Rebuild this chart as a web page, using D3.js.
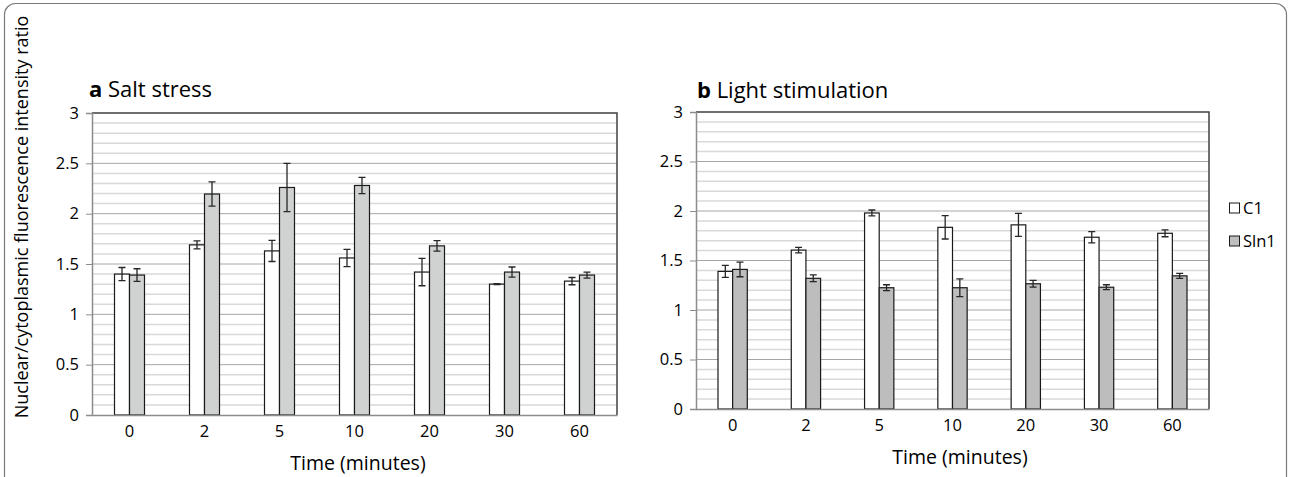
<!DOCTYPE html>
<html><head><meta charset="utf-8">
<script src="https://cdn.jsdelivr.net/npm/d3@7"></script>
<style>body{margin:0;background:#fff}svg{display:block}text{font-family:"Open Sans",sans-serif;fill:#000}</style>
</head><body>
<svg id="c" width="1290" height="477"></svg>
<script>
const categories = ["0","2","5","10","20","30","60"];
const seriesNames = ["C1","Sln1"];
// Panel a: Salt stress
const saltC1 = [1.40,1.69,1.63,1.56,1.42,1.30,1.33];
const saltC1Err = [0.065,0.04,0.105,0.086,0.136,0.005,0.036];
const saltSln1 = [1.39,2.195,2.26,2.28,1.68,1.42,1.39];
const saltSln1Err = [0.063,0.12,0.24,0.08,0.053,0.05,0.03];
// Panel b: Light stimulation
const lightC1 = [1.39,1.605,1.98,1.835,1.86,1.735,1.775];
const lightC1Err = [0.06,0.027,0.03,0.118,0.116,0.057,0.035];
const lightSln1 = [1.41,1.32,1.225,1.225,1.265,1.23,1.345];
const lightSln1Err = [0.074,0.034,0.03,0.09,0.034,0.025,0.025];
const yTicks = [0,0.5,1,1.5,2,2.5,3];

const svg = d3.select("#c");
svg.append("rect").attr("x",4.5).attr("y",3.5).attr("width",1282).attr("height",500)
  .attr("rx",11).attr("fill","none").attr("stroke","#7a7a7a").attr("stroke-width",1.2);

function panel(o){
  const g = svg.append("g");
  const x = d3.scaleBand().domain(categories).range([o.x0,o.x1]).paddingInner(0.6).paddingOuter(0.3);
  const xs = d3.scaleBand().domain(seriesNames).range([0,x.bandwidth()]);
  const y = d3.scaleLinear().domain([0,3]).range([o.y0,o.y1]);
  const minor = d3.range(1,30).map(i=>i/10).filter(v=>Math.abs(v*2-Math.round(v*2))>1e-6);
  g.selectAll(".mn").data(minor).enter().append("line")
    .attr("x1",o.x0).attr("x2",o.x1).attr("y1",d=>y(d)).attr("y2",d=>y(d))
    .attr("stroke","#d9d9d9").attr("stroke-width",1.5);
  g.selectAll(".mj").data(yTicks.filter(v=>v>0&&v<3)).enter().append("line")
    .attr("x1",o.x0).attr("x2",o.x1).attr("y1",d=>y(d)).attr("y2",d=>y(d))
    .attr("stroke","#a6a6a6").attr("stroke-width",1);
  g.append("path").attr("d",`M${o.x0},${y(3)}H${o.x1}V${y(0)}`).attr("fill","none")
    .attr("stroke","#404040").attr("stroke-width",1.5);
  const data = [
    {name:"C1",vals:o.c1,errs:o.c1e,fill:"#ffffff"},
    {name:"Sln1",vals:o.s1,errs:o.s1e,fill:o.sFill}
  ];
  data.forEach(s=>{
    categories.forEach((c,i)=>{
      const bx = x(c)+xs(s.name), bw = xs.bandwidth();
      g.append("rect").attr("x",bx).attr("y",y(s.vals[i])).attr("width",bw)
        .attr("height",y(0)-y(s.vals[i])).attr("fill",s.fill).attr("stroke","#1a1a1a").attr("stroke-width",1.2);
    });
  });
  data.forEach(s=>{
    categories.forEach((c,i)=>{
      const cx = x(c)+xs(s.name)+xs.bandwidth()/2;
      const hi = y(s.vals[i]+s.errs[i]), lo = y(s.vals[i]-s.errs[i]);
      g.append("path").attr("d",`M${cx},${hi}V${lo}M${cx-3.5},${hi}H${cx+3.5}M${cx-3.5},${lo}H${cx+3.5}`)
        .attr("stroke","#262626").attr("stroke-width",1.3).attr("fill","none");
    });
  });
  const ya = d3.axisLeft(y).tickValues(yTicks).tickSize(6).tickPadding(7).tickFormat(d3.format("~g"));
  const yg = g.append("g").attr("transform",`translate(${o.x0},0)`).call(ya);
  yg.attr("font-size",null).attr("font-family",null);
  yg.select(".domain").attr("stroke","#8c8c8c").attr("stroke-width",1.5);
  yg.selectAll(".tick line").attr("stroke","#8c8c8c");
  yg.selectAll("text").style("font-size","16.5px").attr("fill","#000");
  const xa = d3.axisBottom(x).tickSize(0).tickPadding(10);
  const xg = g.append("g").attr("transform",`translate(0,${y(0)})`).call(xa);
  xg.attr("font-size",null).attr("font-family",null);
  xg.select(".domain").attr("stroke","#8c8c8c").attr("stroke-width",1.5);
  xg.selectAll("text").style("font-size","16.5px").attr("fill","#000");
  g.append("text").attr("x",o.xtx).attr("y",o.xty).attr("text-anchor","middle")
    .style("font-size","19.5px").text("Time (minutes)");
  const t = g.append("text").attr("x",o.tx).attr("y",o.ty).style("font-size","22px");
  t.append("tspan").style("font-weight","bold").text(o.letter);
  t.append("tspan").text(" "+o.title);
}

panel({x0:92,x1:617,y0:415,y1:113,c1:saltC1,c1e:saltC1Err,s1:saltSln1,s1e:saltSln1Err,
  sFill:"#d0d2d2",xtx:358,xty:470,tx:89,ty:97,letter:"a",title:"Salt stress"});
panel({x0:696,x1:1209,y0:409,y1:112,c1:lightC1,c1e:lightC1Err,s1:lightSln1,s1e:lightSln1Err,
  sFill:"#bdbdbd",xtx:960,xty:464,tx:697,ty:98,letter:"b",title:"Light stimulation"});

svg.append("text").attr("transform","translate(28,217) rotate(-90)").attr("text-anchor","middle")
  .style("font-size","18px").text("Nuclear/cytoplasmic fluorescence intensity ratio");

const legendFills = ["#ffffff","#bfbfbf"];
const lg = svg.append("g");
seriesNames.forEach((n,i)=>{
  const yy = 208 + i*33;
  lg.append("rect").attr("x",1229.5).attr("y",yy-5).attr("width",10).attr("height",10)
    .attr("fill",legendFills[i]).attr("stroke","#1a1a1a").attr("stroke-width",1);
  lg.append("text").attr("x",1243).attr("y",yy+6).style("font-size","16.5px").text(n);
});
</script>
</body></html>
